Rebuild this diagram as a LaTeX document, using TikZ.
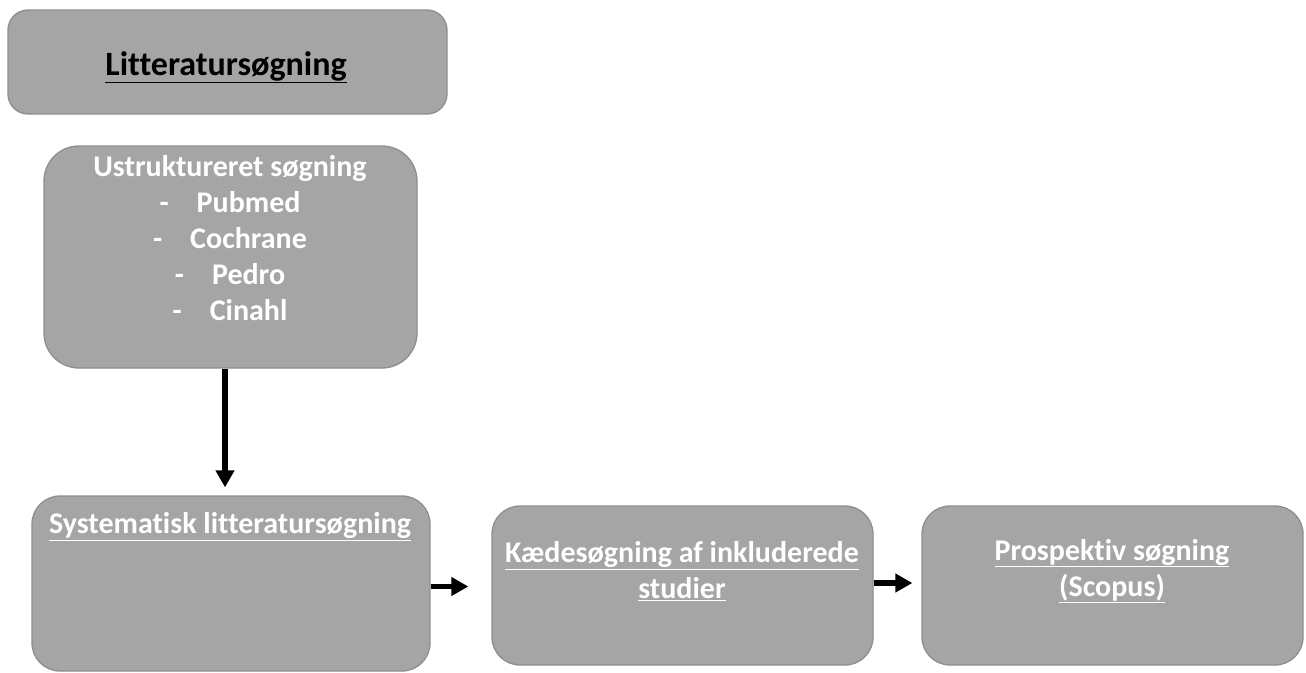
\documentclass[tikz,border=0pt]{standalone}
\usepackage{fontspec}
\setmainfont{Carlito}[Ligatures=NoCommon]
\usetikzlibrary{arrows.meta}
\definecolor{boxfill}{HTML}{A5A5A5}
\definecolor{boxline}{HTML}{8E8E8E}
\begin{document}
\begin{tikzpicture}[x=1pt,y=-1pt,
  box/.style={draw=boxline, fill=boxfill, line width=1.3pt, rounded corners=#1, inner sep=0pt},
  box/.default=25pt,
  txt/.style={font=\fontsize{30}{36}\selectfont\bfseries, text=white, align=center, inner sep=0pt},
  arr/.style={line width=5.5pt, -{Triangle[length=17pt,width=18pt]}}
]
\useasboundingbox (0,0) rectangle (1306,672);
% boxes
\node[box=20pt, minimum width=439pt, minimum height=104pt] (b1) at (227.5,62) {};
\node[box=35pt, minimum width=373pt, minimum height=222pt] (b2) at (230.5,257) {};
\node[box=28pt, minimum width=398pt, minimum height=175pt] (b3) at (231,583.5) {};
\node[box=28pt, minimum width=381pt, minimum height=159pt] (b4) at (682.5,585.5) {};
\node[box=28pt, minimum width=381pt, minimum height=159pt] (b5) at (1112.5,585.5) {};
% texts
\node[txt, text=black, font=\fontsize{34}{40}\selectfont\bfseries] (t1) at (226,67) {\underline{Litteratursøgning}};
\node[txt] (t2) at (230,238) {Ustruktureret søgning\\-\hspace{28pt}Pubmed\\-\hspace{28pt}Cochrane\\-\hspace{28pt}Pedro\\-\hspace{28pt}Cinahl};
\node[txt] (t3) at (230,527) {\underline{Systematisk litteratursøgning}};
\node[txt] (t4) at (682,571) {\underline{Kædesøgning af inkluderede}\\\underline{studier}};
\node[txt] (t5) at (1112,571) {\underline{Prospektiv søgning}\\\underline{(Scopus)}};
% arrows
\draw[arr, shorten >=8pt] ([xshift=-5.5pt]b2.south) -- ([xshift=-6pt]b3.north);
\draw[arr, shorten >=23pt] ([yshift=-3pt]b3.east) -- ([yshift=-1pt]b4.west);
\draw[arr, shorten >=9pt] ([yshift=2.5pt]b4.east) -- ([yshift=2.5pt]b5.west);
\end{tikzpicture}
\end{document}
